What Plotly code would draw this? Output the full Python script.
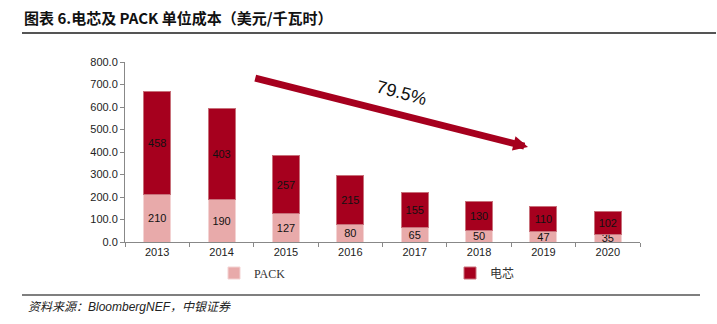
import plotly.graph_objects as go

years = ["2013", "2014", "2015", "2016", "2017", "2018", "2019", "2020"]
pack = [210, 190, 127, 80, 65, 50, 47, 35]
cell = [458, 403, 257, 215, 155, 130, 110, 102]
y_ticks = [0, 100, 200, 300, 400, 500, 600, 700, 800]

DARK = "#A6001E"
PINK = "#E8AAAA"

W, H = 717, 324
L, R, T, B = 125, 77, 62, 82
pw, ph = W - L - R, H - T - B
def px(x):
    return (x - L) / pw
def py(y):
    return (H - B - y) / ph

fig = go.Figure()
fig.add_trace(go.Bar(
    x=years, y=pack, name="PACK", legend="legend",
    marker=dict(color=PINK, line=dict(color="#F3D3D3", width=1)),
    text=[str(v) for v in pack], textposition="inside", insidetextanchor="middle",
    textfont=dict(family="Arial, Liberation Sans", size=11, color="#111"),
))
fig.add_trace(go.Bar(
    x=years, y=cell, name="电芯", legend="legend2",
    marker=dict(color=DARK, line=dict(color="#C8707A", width=1)),
    text=[str(v) for v in cell], textposition="inside", insidetextanchor="middle",
    textfont=dict(family="Arial, Liberation Sans", size=11, color="#111"),
))

leg_common = dict(
    orientation="h", xanchor="left", yanchor="middle",
    bgcolor="rgba(0,0,0,0)", itemwidth=30,
    font=dict(family="Liberation Serif, Times New Roman, Noto Sans CJK SC", size=12, color="#333"),
)

fig.update_layout(
    barmode="stack",
    bargap=0.58,
    width=W, height=H,
    margin=dict(l=L, r=R, t=T, b=B),
    paper_bgcolor="white", plot_bgcolor="white",
    uniformtext=dict(minsize=11, mode="show"),
    showlegend=True,
    legend=dict(x=px(214), y=py(273), **leg_common),
    legend2=dict(x=px(450), y=py(273), **leg_common),
    font=dict(family="Arial, Liberation Sans", size=11, color="#222"),
)
fig.update_xaxes(
    type="category", showline=True, linecolor="#888", linewidth=1,
    ticks="outside", ticklen=4, tickcolor="#888", tickson="boundaries",
    tickfont=dict(family="Arial, Liberation Sans", size=11, color="#222"),
    showgrid=False,
)
fig.update_yaxes(
    range=[0, 800], tickvals=y_ticks, tickformat=".1f",
    showline=True, linecolor="#888", linewidth=1,
    ticks="outside", ticklen=4, tickcolor="#888",
    tickfont=dict(family="Arial, Liberation Sans", size=11, color="#222"),
    showgrid=False, zeroline=False,
)

# trend arrow
fig.add_annotation(
    x=5.76, y=422, xref="x", yref="y",
    ax=1.5, ay=730, axref="x", ayref="y",
    showarrow=True, arrowhead=2, arrowsize=0.42, arrowwidth=7, arrowcolor=DARK,
    text="",
)
fig.add_annotation(
    x=3.8, y=662, xref="x", yref="y", text="79.5%", showarrow=False,
    textangle=15, font=dict(family="Arial, Liberation Sans", size=18, color="#111"),
)

# title
fig.add_annotation(
    x=px(22), y=py(17), xref="paper", yref="paper",
    text="<b>图表 6.电芯及 PACK 单位成本（美元/千瓦时）</b>",
    showarrow=False, xanchor="left", yanchor="middle",
    font=dict(family="Noto Sans CJK SC", size=15, color="#111"),
)
fig.add_annotation(
    text="<i>资料来源：BloombergNEF，中银证券</i>", showarrow=False,
    xref="paper", yref="paper", x=px(26), y=py(307), xanchor="left", yanchor="middle",
    font=dict(family="Arial, Noto Sans CJK SC", size=12, color="#222"),
)
fig.add_shape(type="line", xref="paper", yref="paper", x0=px(22), x1=px(716), y0=py(33), y1=py(33),
              line=dict(color="#555", width=2))
fig.add_shape(type="line", xref="paper", yref="paper", x0=px(22), x1=px(700), y0=py(295), y1=py(295),
              line=dict(color="#555", width=1.5))

fig.write_html("out.html")
